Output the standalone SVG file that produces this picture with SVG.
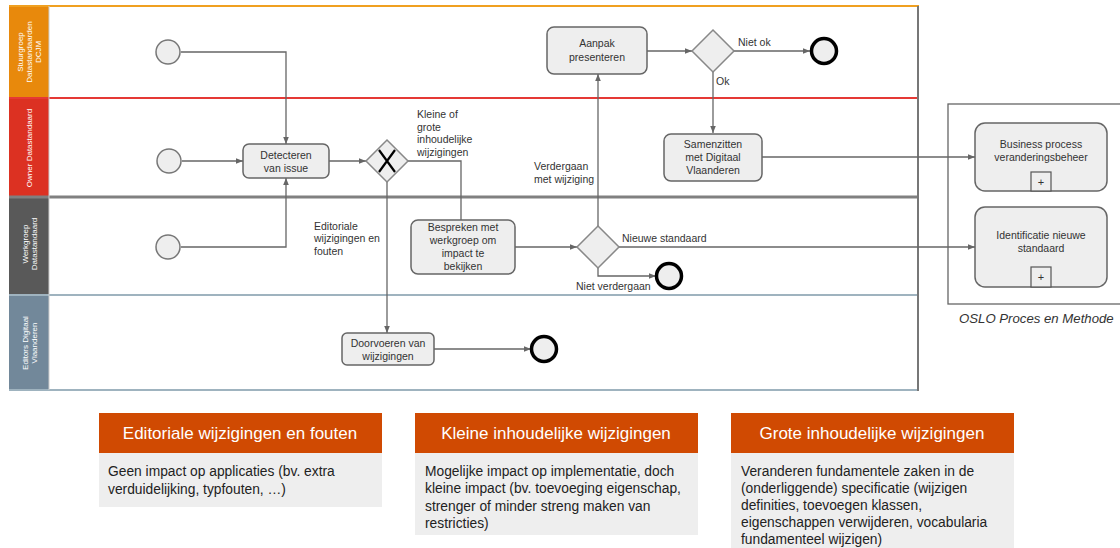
<svg xmlns="http://www.w3.org/2000/svg" width="1120" height="548" viewBox="0 0 1120 548">
  <style>
    text { font-family: "Liberation Sans", Arial, sans-serif; }
    .lane-label { fill: #ffffff; font-size: 8px; text-anchor: middle; }
    .task { fill: #eeeeee; stroke: #666666; stroke-width: 1.5; }
    .task-text { fill: #333333; font-size: 10.5px; text-anchor: middle; }
    .gw { fill: #eeeeee; stroke: #888888; stroke-width: 1.5; }
    .start { fill: #eeeeee; stroke: #777777; stroke-width: 1.5; }
    .end { fill: #eeeeee; stroke: #000000; stroke-width: 3.5; }
    .flow { fill: none; stroke: #666666; stroke-width: 1.3; }
    .lbl { fill: #333333; font-size: 10.5px; }
    .hdr { fill: #d04a02; }
    .hdr-text { fill: #ffffff; font-size: 17px; text-anchor: middle; }
    .body { fill: #eeeeee; }
    .body-text { fill: #222222; font-size: 13.8px; }
  </style>
  <defs>
    <marker id="arrow" viewBox="0 0 10 10" refX="10" refY="5" markerWidth="7" markerHeight="7" orient="auto" markerUnits="userSpaceOnUse">
      <path d="M0,1 L10,5 L0,9 z" fill="#666666"/>
    </marker>
  </defs>

  <rect width="1120" height="548" fill="#ffffff"/>

  <!-- Pool with four lanes -->
  <g id="pool">
    <rect x="9" y="6" width="40" height="92" fill="#e8890c"/>
    <rect x="9" y="98" width="40" height="99" fill="#dc3122"/>
    <rect x="9" y="197" width="40" height="98" fill="#595959"/>
    <rect x="9" y="295" width="40" height="95" fill="#72889a"/>
    <line x1="9" y1="6" x2="919" y2="6" stroke="#f0a020" stroke-width="2"/>
    <line x1="9" y1="98" x2="919" y2="98" stroke="#e53935" stroke-width="2"/>
    <line x1="9" y1="197" x2="919" y2="197" stroke="#808080" stroke-width="3"/>
    <line x1="9" y1="295" x2="919" y2="295" stroke="#9fb3bf" stroke-width="2"/>
    <line x1="9" y1="390" x2="919" y2="390" stroke="#9fb3bf" stroke-width="2"/>
    <line x1="918" y1="6" x2="918" y2="391" stroke="#777777" stroke-width="2"/>
    <line x1="49" y1="6" x2="49" y2="390" stroke="#cccccc" stroke-width="1"/>
    <text class="lane-label" transform="translate(29 52) rotate(-90)"><tspan x="0" y="-6">Stuurgroep</tspan><tspan x="0" y="3">Datastandaarden</tspan><tspan x="0" y="12">DCJM</tspan></text>
    <text class="lane-label" transform="translate(29 148) rotate(-90)"><tspan x="0" y="3">Owner Datastandaard</tspan></text>
    <text class="lane-label" transform="translate(29 244) rotate(-90)"><tspan x="0" y="-1">Werkgroep</tspan><tspan x="0" y="8">Datastandaard</tspan></text>
    <text class="lane-label" transform="translate(29 343) rotate(-90)"><tspan x="0" y="-1">Editors Digitaal</tspan><tspan x="0" y="8">Vlaanderen</tspan></text>
  </g>

  <!-- OSLO frame -->
  <g id="oslo-frame">
    <rect x="948" y="104" width="180" height="200" fill="none" stroke="#666666" stroke-width="1.3"/>
    <text x="959" y="323" font-size="13.2" font-style="italic" fill="#333333">OSLO Proces en Methode</text>
  </g>

  <!-- Connectors -->
  <g id="connectors">
    <path class="flow" d="M181,52 H286 V144" marker-end="url(#arrow)"/>
    <path class="flow" d="M182,161 H243" marker-end="url(#arrow)"/>
    <path class="flow" d="M181,247 H286 V178" marker-end="url(#arrow)"/>
    <path class="flow" d="M329,161 H366" marker-end="url(#arrow)"/>
    <path class="flow" d="M408,161 H461 V220"/>
    <path class="flow" d="M387,182 V333" marker-end="url(#arrow)"/>
    <path class="flow" d="M434,349 H531" marker-end="url(#arrow)"/>
    <path class="flow" d="M515,247 H577" marker-end="url(#arrow)"/>
    <path class="flow" d="M598,226 V74" marker-end="url(#arrow)"/>
    <path class="flow" d="M619,247 H975" marker-end="url(#arrow)"/>
    <path class="flow" d="M598,268 V276 H656" marker-end="url(#arrow)"/>
    <path class="flow" d="M647,51 H692" marker-end="url(#arrow)"/>
    <path class="flow" d="M734,51 H810" marker-end="url(#arrow)"/>
    <path class="flow" d="M713,72 V133" marker-end="url(#arrow)"/>
    <path class="flow" d="M762,157 H975" marker-end="url(#arrow)"/>

    <text class="lbl" x="417" y="118">Kleine of</text>
    <text class="lbl" x="417" y="131">grote</text>
    <text class="lbl" x="417" y="143">inhoudelijke</text>
    <text class="lbl" x="417" y="156">wijzigingen</text>
    <text class="lbl" x="314" y="230">Editoriale</text>
    <text class="lbl" x="314" y="242">wijzigingen en</text>
    <text class="lbl" x="314" y="255">fouten</text>
    <text class="lbl" x="534" y="170">Verdergaan</text>
    <text class="lbl" x="534" y="183">met wijziging</text>
    <text class="lbl" x="738" y="46">Niet ok</text>
    <text class="lbl" x="716" y="85">Ok</text>
    <text class="lbl" x="622" y="242">Nieuwe standaard</text>
    <text class="lbl" x="576" y="290">Niet verdergaan</text>
  </g>

  <!-- Events -->
  <g id="start-stuurgroep"><circle class="start" cx="168" cy="52" r="12"/></g>
  <g id="start-owner"><circle class="start" cx="169" cy="161" r="12"/></g>
  <g id="start-werkgroep"><circle class="start" cx="168" cy="247" r="12"/></g>
  <g id="end-niet-ok"><circle class="end" cx="824" cy="51" r="12.5"/></g>
  <g id="end-niet-verdergaan"><circle class="end" cx="669" cy="276" r="12.5"/></g>
  <g id="end-doorvoeren"><circle class="end" cx="544" cy="349" r="12.5"/></g>

  <!-- Tasks -->
  <g id="task-detecteren">
    <rect class="task" x="243" y="144" width="86" height="34" rx="6"/>
    <text class="task-text"><tspan x="286" y="159">Detecteren</tspan><tspan x="286" y="172">van issue</tspan></text>
  </g>
  <g id="task-bespreken">
    <rect class="task" x="411" y="220" width="104" height="54" rx="7"/>
    <text class="task-text"><tspan x="463" y="231">Bespreken met</tspan><tspan x="463" y="244">werkgroep om</tspan><tspan x="463" y="257">impact te</tspan><tspan x="463" y="270">bekijken</tspan></text>
  </g>
  <g id="task-aanpak">
    <rect class="task" x="547" y="27" width="100" height="47" rx="7"/>
    <text class="task-text"><tspan x="597" y="47">Aanpak</tspan><tspan x="597" y="61">presenteren</tspan></text>
  </g>
  <g id="task-samenzitten">
    <rect class="task" x="664" y="134" width="98" height="47" rx="7"/>
    <text class="task-text"><tspan x="713" y="148">Samenzitten</tspan><tspan x="713" y="161">met Digitaal</tspan><tspan x="713" y="174">Vlaanderen</tspan></text>
  </g>
  <g id="task-doorvoeren">
    <rect class="task" x="342" y="333" width="92" height="32" rx="5"/>
    <text class="task-text"><tspan x="388" y="347">Doorvoeren van</tspan><tspan x="388" y="360">wijzigingen</tspan></text>
  </g>

  <!-- Gateways -->
  <g id="gw-soort">
    <path class="gw" d="M387,140 L408,161 L387,182 L366,161 Z"/>
    <path d="M379,150 L395,172 M395,150 L379,172" stroke="#000000" stroke-width="2.2" fill="none"/>
  </g>
  <g id="gw-verdergaan">
    <path class="gw" d="M598,226 L619,247 L598,268 L577,247 Z"/>
  </g>
  <g id="gw-ok">
    <path class="gw" d="M713,30 L734,51 L713,72 L692,51 Z"/>
  </g>

  <!-- Collapsed sub-processes -->
  <g id="sub-business-process">
    <rect class="task" x="975" y="123" width="132" height="68" rx="10"/>
    <text class="task-text" font-size="10px"><tspan x="1041" y="148">Business process</tspan><tspan x="1041" y="161">veranderingsbeheer</tspan></text>
    <rect x="1031" y="172" width="20" height="19" fill="#eeeeee" stroke="#555555" stroke-width="1.2"/>
    <text x="1041" y="186" font-size="11" text-anchor="middle" fill="#333333">+</text>
  </g>
  <g id="sub-identificatie">
    <rect class="task" x="975" y="207" width="132" height="80" rx="10"/>
    <text class="task-text" font-size="10px"><tspan x="1041" y="239">Identificatie nieuwe</tspan><tspan x="1041" y="252">standaard</tspan></text>
    <rect x="1031" y="267" width="20" height="20" fill="#eeeeee" stroke="#555555" stroke-width="1.2"/>
    <text x="1041" y="281" font-size="11" text-anchor="middle" fill="#333333">+</text>
  </g>

  <!-- Change categories -->
  <g id="cat-editoriaal">
    <rect class="hdr" x="99" y="413" width="283" height="40"/>
    <rect class="body" x="99" y="453" width="283" height="54"/>
    <text class="hdr-text" x="240" y="439">Editoriale wijzigingen en fouten</text>
    <text class="body-text"><tspan x="108" y="476">Geen impact op applicaties (bv. extra</tspan><tspan x="108" y="494">verduidelijking, typfouten, …)</tspan></text>
  </g>
  <g id="cat-kleine">
    <rect class="hdr" x="415" y="413" width="283" height="40"/>
    <rect class="body" x="415" y="453" width="283" height="82"/>
    <text class="hdr-text" x="556" y="439">Kleine inhoudelijke wijzigingen</text>
    <text class="body-text"><tspan x="425" y="476">Mogelijke impact op implementatie, doch</tspan><tspan x="425" y="493">kleine impact (bv. toevoeging eigenschap,</tspan><tspan x="425" y="511">strenger of minder streng maken van</tspan><tspan x="425" y="528">restricties)</tspan></text>
  </g>
  <g id="cat-grote">
    <rect class="hdr" x="731" y="413" width="283" height="40"/>
    <rect class="body" x="731" y="453" width="283" height="95"/>
    <text class="hdr-text" x="872" y="439">Grote inhoudelijke wijzigingen</text>
    <text class="body-text"><tspan x="741" y="476">Veranderen fundamentele zaken in de</tspan><tspan x="741" y="493">(onderliggende) specificatie (wijzigen</tspan><tspan x="741" y="510">definities, toevoegen klassen,</tspan><tspan x="741" y="527">eigenschappen verwijderen, vocabularia</tspan><tspan x="741" y="544">fundamenteel wijzigen)</tspan></text>
  </g>
</svg>
